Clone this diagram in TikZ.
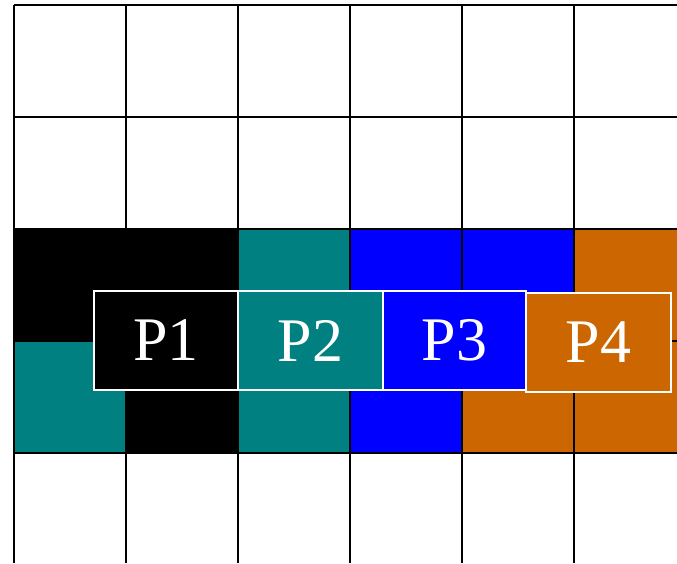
\documentclass[tikz,border=0pt]{standalone}
\usepackage{fontspec}
\setmainfont{Liberation Serif}
\definecolor{tealc}{HTML}{008080}
\definecolor{bluec}{HTML}{0000FF}
\definecolor{orangec}{HTML}{CC6600}
\tikzset{
  gridline/.style={line width=2.5pt, black},
  procbox/.style={draw=white, line width=2pt, text=white, inner sep=0pt,
    minimum height=99pt, font=\fontsize{62}{62}\selectfont},
}
\begin{document}
\begin{tikzpicture}[x=1pt,y=-1pt]
  \useasboundingbox (0,0) rectangle (677,563);
  % coloured cells, rows 3 and 4
  \def\cell#1#2#3{\fill[#3] ({14+112*#1},{229+112*#2}) rectangle ++(112,112);}
  \cell{0}{0}{black}   \cell{1}{0}{black}  \cell{2}{0}{tealc}
  \cell{3}{0}{bluec}   \cell{4}{0}{bluec}  \cell{5}{0}{orangec}
  \cell{0}{1}{tealc}   \cell{1}{1}{black}  \cell{2}{1}{tealc}
  \cell{3}{1}{bluec}   \cell{4}{1}{orangec}\cell{5}{1}{orangec}
  % grid lines
  \foreach \i in {0,...,5} \draw[gridline] ({14+112*\i},5) -- ({14+112*\i},563);
  \foreach \j in {0,...,4} \draw[gridline] (14,{5+112*\j}) -- (677,{5+112*\j});
  % process labels
  \node[procbox, fill=black,   minimum width=144pt] (p1) at (166,340.5) {P1};
  \node[procbox, fill=tealc,   minimum width=145pt] (p2) at (310.5,340.5) {P2};
  \node[procbox, fill=bluec,   minimum width=143pt] (p3) at (454.5,340.5) {P3};
  \node[procbox, fill=orangec, minimum width=145pt] (p4) at (598.5,342) {P4};
\end{tikzpicture}
\end{document}
